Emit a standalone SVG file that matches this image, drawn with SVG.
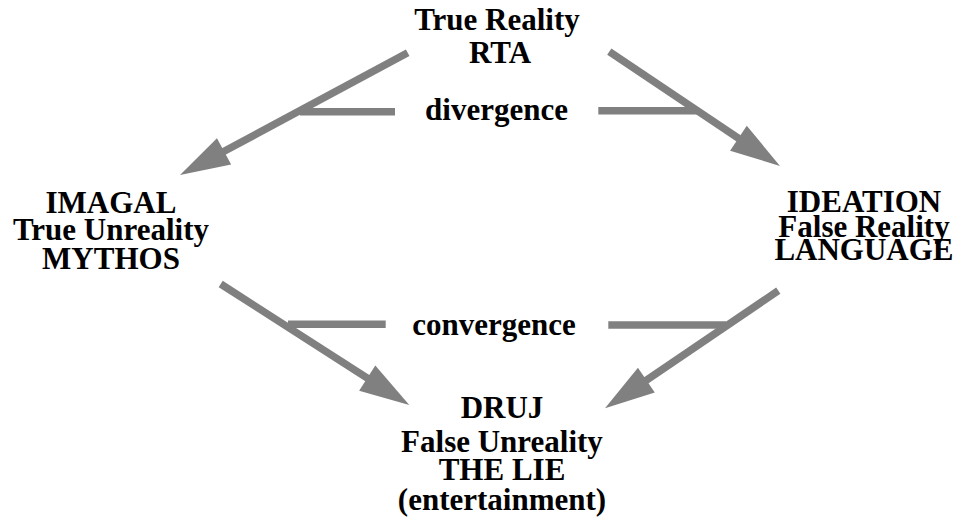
<svg xmlns="http://www.w3.org/2000/svg" width="958" height="523" viewBox="0 0 958 523">
<style>
text{font-family:"Liberation Serif","Times New Roman",serif;font-weight:bold;font-size:31px;fill:#000;text-anchor:middle}
.c line{stroke:#808080;stroke-width:7.5;fill:none}
.a{marker-end:url(#ah)}
</style>
<defs>
<marker id="ah" markerUnits="userSpaceOnUse" markerWidth="50" markerHeight="30" viewBox="0 -15 50 30" refX="2" refY="0" orient="auto" overflow="visible">
<path d="M0,-15 L50,0 L0,15 z" fill="#808080"/>
</marker>
</defs>
<rect width="958" height="523" fill="#fff"/>
<g id="connectors" class="c">
<line class="a" x1="407.7" y1="52.7" x2="222.3" y2="152.3"/>
<line class="a" x1="609.3" y1="51.7" x2="740.1" y2="139.3"/>
<line class="a" x1="220.7" y1="284" x2="368.9" y2="379.1"/>
<line class="a" x1="778.3" y1="290.7" x2="644.7" y2="381.3"/>
<line x1="300" y1="111.7" x2="395" y2="111.7"/>
<line x1="598.3" y1="110.7" x2="698.5" y2="110.7"/>
<line x1="288" y1="324.3" x2="385.7" y2="324.3"/>
<line x1="608.3" y1="325" x2="726" y2="325"/>
</g>
<g id="true-reality"><text x="497" y="30">True Reality</text><text x="500" y="63">RTA</text></g>
<g id="divergence"><text x="496.5" y="120">divergence</text></g>
<g id="imagal"><text x="111" y="213">IMAGAL</text><text x="111" y="240">True Unreality</text><text x="111" y="269">MYTHOS</text></g>
<g id="ideation"><text x="864" y="212">IDEATION</text><text x="864" y="237">False Reality</text><text x="864" y="260">LANGUAGE</text></g>
<g id="convergence"><text x="494" y="335">convergence</text></g>
<g id="druj"><text x="502" y="418">DRUJ</text><text x="502" y="452">False Unreality</text><text x="502" y="480">THE LIE</text><text x="502" y="510">(entertainment)</text></g>
</svg>
